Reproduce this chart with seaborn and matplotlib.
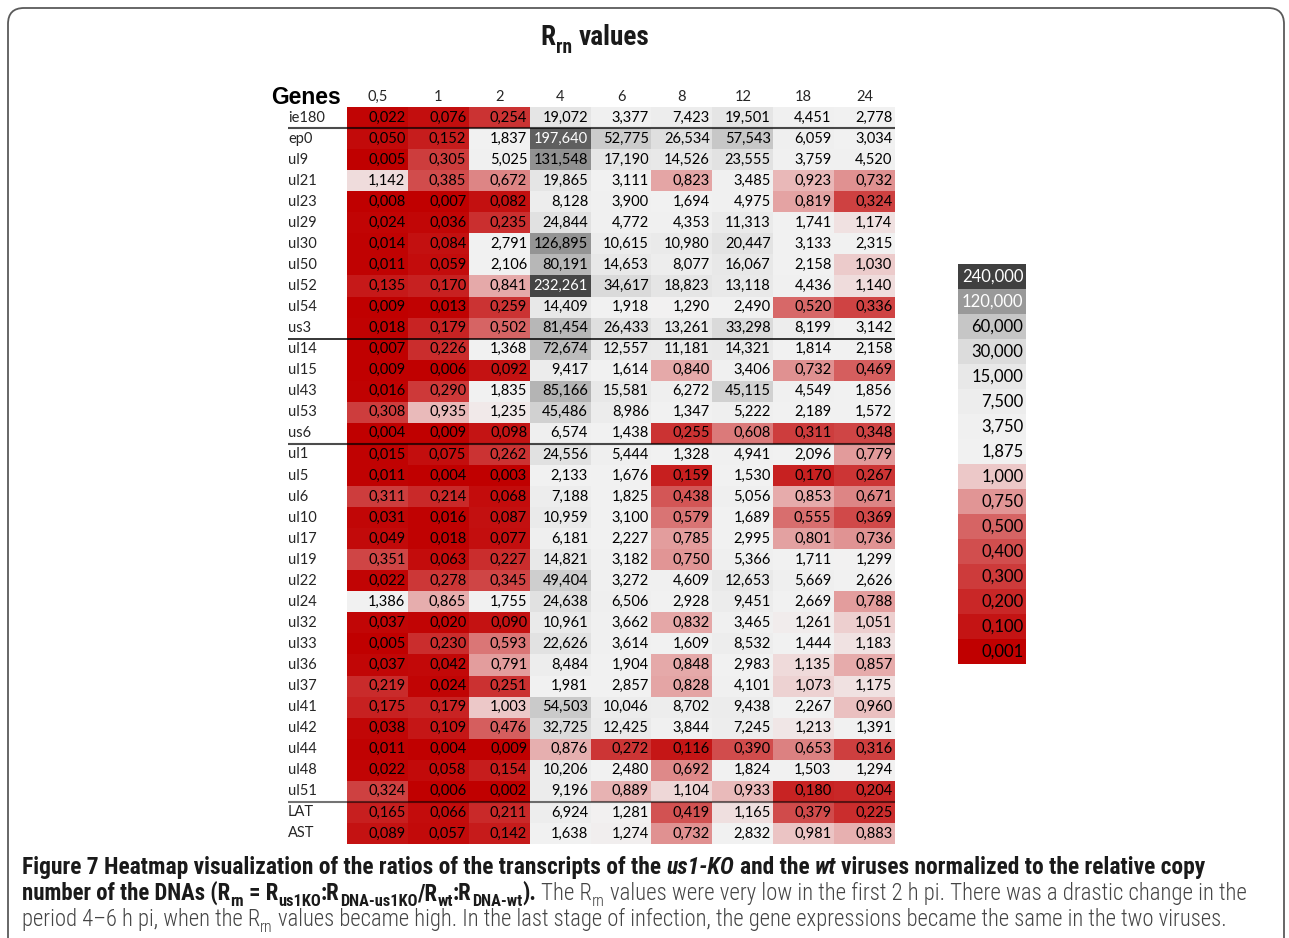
import numpy as np
import pandas as pd
import seaborn as sns
import matplotlib
matplotlib.use("Agg")
import matplotlib.pyplot as plt
from matplotlib import colors as mcolors, transforms as mtrans, patches as mpatches
from matplotlib import font_manager as fm

# ---------------- data ----------------
genes = ["ie180", "ep0", "ul9", "ul21", "ul23", "ul29", "ul30", "ul50", "ul52", "ul54",
         "us3", "ul14", "ul15", "ul43", "ul53", "us6", "ul1", "ul5", "ul6", "ul10",
         "ul17", "ul19", "ul22", "ul24", "ul32", "ul33", "ul36", "ul37", "ul41", "ul42",
         "ul44", "ul48", "ul51", "LAT", "AST"]
times = ["0,5", "1", "2", "4", "6", "8", "12", "18", "24"]

h0_5 = [0.022, 0.050, 0.005, 1.142, 0.008, 0.024, 0.014, 0.011, 0.135, 0.009,
        0.018, 0.007, 0.009, 0.016, 0.308, 0.004, 0.015, 0.011, 0.311, 0.031,
        0.049, 0.351, 0.022, 1.386, 0.037, 0.005, 0.037, 0.219, 0.175, 0.038,
        0.011, 0.022, 0.324, 0.165, 0.089]
h1 = [0.076, 0.152, 0.305, 0.385, 0.007, 0.036, 0.084, 0.059, 0.170, 0.013,
      0.179, 0.226, 0.006, 0.290, 0.935, 0.009, 0.075, 0.004, 0.214, 0.016,
      0.018, 0.063, 0.278, 0.865, 0.020, 0.230, 0.042, 0.024, 0.179, 0.109,
      0.004, 0.058, 0.006, 0.066, 0.057]
h2 = [0.254, 1.837, 5.025, 0.672, 0.082, 0.235, 2.791, 2.106, 0.841, 0.259,
      0.502, 1.368, 0.092, 1.835, 1.235, 0.098, 0.262, 0.003, 0.068, 0.087,
      0.077, 0.227, 0.345, 1.755, 0.090, 0.593, 0.791, 0.251, 1.003, 0.476,
      0.009, 0.154, 0.002, 0.211, 0.142]
h4 = [19.072, 197.640, 131.548, 19.865, 8.128, 24.844, 126.895, 80.191, 232.261, 14.409,
      81.454, 72.674, 9.417, 85.166, 45.486, 6.574, 24.556, 2.133, 7.188, 10.959,
      6.181, 14.821, 49.404, 24.638, 10.961, 22.626, 8.484, 1.981, 54.503, 32.725,
      0.876, 10.206, 9.196, 6.924, 1.638]
h6 = [3.377, 52.775, 17.190, 3.111, 3.900, 4.772, 10.615, 14.653, 34.617, 1.918,
      26.433, 12.557, 1.614, 15.581, 8.986, 1.438, 5.444, 1.676, 1.825, 3.100,
      2.227, 3.182, 3.272, 6.506, 3.662, 3.614, 1.904, 2.857, 10.046, 12.425,
      0.272, 2.480, 0.889, 1.281, 1.274]
h8 = [7.423, 26.534, 14.526, 0.823, 1.694, 4.353, 10.980, 8.077, 18.823, 1.290,
      13.261, 11.181, 0.840, 6.272, 1.347, 0.255, 1.328, 0.159, 0.438, 0.579,
      0.785, 0.750, 4.609, 2.928, 0.832, 1.609, 0.848, 0.828, 8.702, 3.844,
      0.116, 0.692, 1.104, 0.419, 0.732]
h12 = [19.501, 57.543, 23.555, 3.485, 4.975, 11.313, 20.447, 16.067, 13.118, 2.490,
       33.298, 14.321, 3.406, 45.115, 5.222, 0.608, 4.941, 1.530, 5.056, 1.689,
       2.995, 5.366, 12.653, 9.451, 3.465, 8.532, 2.983, 4.101, 9.438, 7.245,
       0.390, 1.824, 0.933, 1.165, 2.832]
h18 = [4.451, 6.059, 3.759, 0.923, 0.819, 1.741, 3.133, 2.158, 4.436, 0.520,
       8.199, 1.814, 0.732, 4.549, 2.189, 0.311, 2.096, 0.170, 0.853, 0.555,
       0.801, 1.711, 5.669, 2.669, 1.261, 1.444, 1.135, 1.073, 2.267, 1.213,
       0.653, 1.503, 0.180, 0.379, 0.981]
h24 = [2.778, 3.034, 4.520, 0.732, 0.324, 1.174, 2.315, 1.030, 1.140, 0.336,
       3.142, 2.158, 0.469, 1.856, 1.572, 0.348, 0.779, 0.267, 0.671, 0.369,
       0.736, 1.299, 2.626, 0.788, 1.051, 1.183, 0.857, 1.175, 0.960, 1.391,
       0.316, 1.294, 0.204, 0.225, 0.883]

group_ends = ["ie180", "us3", "us6", "ul51"]

legend_values = [240, 120, 60, 30, 15, 7.5, 3.75, 1.875, 1.0, 0.75, 0.5, 0.4, 0.3, 0.2, 0.1, 0.001]

title_segs = [("R", "b"), ("rn", "bs"), (" values", "b")]
caption_lines = [
    [("Figure 7 Heatmap visualization of the ratios of the transcripts of the ", "b"),
     ("us1-KO", "bi"), (" and the ", "b"), ("wt", "bi"),
     (" viruses normalized to the relative copy", "b")],
    [("number of the DNAs (R", "b"), ("rn", "bs"), (" = R", "b"), ("us1KO", "bs"),
     (":R", "b"), ("DNA-us1KO", "bs"), ("/R", "b"), ("wt", "bs"), (":R", "b"),
     ("DNA-wt", "bs"), (").", "b"), (" The R", "r"), ("rn", "rs"),
     (" values were very low in the first 2 h pi. There was a drastic change in the", "r")],
    [("period 4\u20136 h pi, when the R", "r"), ("rn", "rs"),
     (" values became high. In the last stage of infection, the gene expressions became the same in the two viruses.", "r")],
]
caption_right = [1204, 1241, 1220]

# ---------------- style ----------------
sns.set_theme(style="white")
available = {f.name for f in fm.fontManager.ttflist}


def pick(cands):
    for c in cands:
        if c in available:
            return c
    return "DejaVu Sans"


narrow = pick(["Liberation Sans Narrow", "Roboto Condensed", "Open Sans Condensed", "Liberation Sans"])
cell_font = pick(["Lato", "Open Sans", "Liberation Sans"])
head_font = pick(["Liberation Sans", "DejaVu Sans"])
plt.rcParams["font.family"] = [cell_font, "DejaVu Sans"]

W, H, DPI = 1289, 938, 100
fig = plt.figure(figsize=(W / DPI, H / DPI), dpi=DPI)
fig.patch.set_facecolor("white")
ident = mtrans.IdentityTransform()

# colour scale: red (low) -> light grey (~1.3) -> dark grey (high)
anchors_v = [0.0, 1.0, 1.3, 240.0]
anchors_p = [0.0, 0.4, 0.5, 1.0]
cmap = mcolors.LinearSegmentedColormap.from_list(
    "rn", [(0.0, "#C00000"), (0.4, "#ECC8C8"), (0.5, "#F2F2F2"), (1.0, "#404040")])


def fwd(x):
    return np.interp(np.asarray(x, float), anchors_v, anchors_p)


def inv(y):
    return np.interp(np.asarray(y, float), anchors_p, anchors_v)


norm = mcolors.FuncNorm((fwd, inv), vmin=0, vmax=240)

# ---------------- main heatmap ----------------
cols = [h0_5, h1, h2, h4, h6, h8, h12, h18, h24]
df = pd.DataFrame({t: c for t, c in zip(times, cols)}, index=genes)
labels = df.map(lambda v: f"{v:.3f}".replace(".", ","))

ax_l, ax_r, ax_t, ax_b = 347, 895, 107, 844
ax = fig.add_axes([ax_l / W, 1 - ax_b / H, (ax_r - ax_l) / W, (ax_b - ax_t) / H])
cell_w = (ax_r - ax_l) / len(times)
shift = mtrans.ScaledTranslation((cell_w / 2 - 2.5) / DPI, 0, fig.dpi_scale_trans)
sns.heatmap(df, ax=ax, cmap=cmap, norm=norm, cbar=False, annot=labels.values, fmt="",
            annot_kws=dict(fontsize=10.5, color="black", ha="right", family=cell_font,
                           transform=ax.transData + shift),
            xticklabels=times, yticklabels=genes, linewidths=0)
for t in ax.texts:
    x, y = t.get_position()
    if df.iat[int(y), int(x)] > 150:
        t.set_color("white")

ax.xaxis.tick_top()
ax.set_xticks(np.arange(len(times)) + 0.5)
ax.set_xticklabels(times, rotation=0, fontsize=10.5, family=cell_font)
ax.tick_params(axis="x", length=0, pad=2.5, top=True, bottom=False, labeltop=True, labelbottom=False)
ax.set_yticks(np.arange(len(genes)) + 0.5)
ax.set_yticklabels(genes, rotation=0, fontsize=10.5, family=cell_font, ha="left")
label_x = 288
ax.tick_params(axis="y", length=0, pad=(ax_l - label_x) * 72 / DPI)
ax.set_xlabel("")
ax.set_ylabel("")

ytrans = ax.get_yaxis_transform()
x0 = (label_x - ax_l) / (ax_r - ax_l)
line_styles = {"ie180": (1.5, 0.7), "us3": (1.1, 1.0), "us6": (1.5, 0.7), "ul51": (1.5, 0.55)}
for g in group_ends:
    r = genes.index(g) + 1
    lw, al = line_styles[g]
    ax.plot([x0, 1], [r, r], transform=ytrans, clip_on=False, color="black", lw=lw, alpha=al,
            solid_capstyle="butt")

fig.text(271, H - 104, "Genes", transform=ident, va="baseline", ha="left",
         fontsize=16.5, fontweight="bold", family=head_font, color="black")

# ---------------- legend ----------------
lax = fig.add_axes([958 / W, 1 - 664 / H, 68 / W, 400 / H])
ldf = pd.DataFrame({"v": legend_values})
llabels = np.array([[f"{v:.3f}".replace(".", ",")] for v in legend_values])
lshift = mtrans.ScaledTranslation((34 - 2.5) / DPI, 0, fig.dpi_scale_trans)
sns.heatmap(ldf, ax=lax, cmap=cmap, norm=norm, cbar=False, annot=llabels, fmt="",
            annot_kws=dict(fontsize=12, color="black", ha="right", family=cell_font,
                           transform=lax.transData + lshift),
            xticklabels=False, yticklabels=False)
for t in lax.texts:
    x, y = t.get_position()
    if legend_values[int(y)] > 100:
        t.set_color("white")
lax.tick_params(length=0)

# ---------------- text helpers ----------------
fig.canvas.draw()
renderer = fig.canvas.get_renderer()


def seg_kw(kind, size, color_b="#1a1a1a", color_r="#444444"):
    kw = dict(family=narrow, transform=ident, va="baseline", ha="left")
    kw["fontweight"] = "bold" if kind.startswith("b") else "light"
    kw["fontstyle"] = "italic" if "i" in kind[1:] else "normal"
    kw["color"] = color_b if kind.startswith("b") else color_r
    sub = kind.endswith("s")
    kw["fontsize"] = size * 0.72 if sub else size
    return kw, sub


def measure(s, kw):
    t = fig.text(0, 0, "|" + s + "|", **kw)
    a = t.get_window_extent(renderer).width
    t.remove()
    t = fig.text(0, 0, "||", **kw)
    b = t.get_window_extent(renderer).width
    t.remove()
    return a - b


def line_width(segs, size):
    tot = 0
    for s, kind in segs:
        kw, _ = seg_kw(kind, size)
        tot += measure(s, kw)
    return tot


def draw_line(x, y, segs, size):
    cur = x
    for s, kind in segs:
        kw, sub = seg_kw(kind, size)
        stripped = s.lstrip(" ")
        lead = len(s) - len(stripped)
        if lead:
            cur += measure(" " * lead, kw)
        yy = y - (size * DPI / 72) * 0.28 if sub else y
        fig.text(cur, yy, stripped, **kw)
        cur += measure(stripped, kw)
    return cur


# title
tsize = 15.5
tw = line_width(title_segs, tsize)
tsize = tsize * 108 / tw
tw = line_width(title_segs, tsize)
draw_line(595 - tw / 2, H - 45, title_segs, tsize)

# caption: each line fitted to the width it spans in the figure
cx = 22
for i, segs in enumerate(caption_lines):
    size = 13.0
    w = line_width(segs, size)
    size = size * (caption_right[i] - cx) / w
    draw_line(cx, H - (874 + 26 * i), segs, size)

# frame
frame = mpatches.FancyBboxPatch((8, -40), W - 8 - 5, H - 8 + 40,
                                boxstyle="round,pad=0,rounding_size=16",
                                transform=ident, fill=False, edgecolor="#5a5a5a", lw=1.3)
fig.patches.append(frame)

fig.savefig("out.png", dpi=DPI)
